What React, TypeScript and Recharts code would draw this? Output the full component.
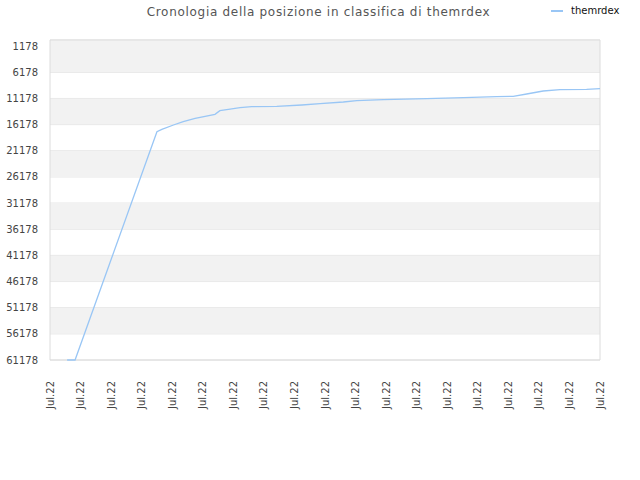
import { LineChart, Line, XAxis, YAxis, CartesianGrid, ReferenceArea } from "recharts";

const TITLE = "Cronologia della posizione in classifica di themrdex";
const SERIES_NAME = "themrdex";

// x position in label units (0 = first "Jul.22" tick), rank value
const xs = [
  0.56, 0.82, 3.5, 3.66, 4.04, 4.36, 4.75, 5.4, 5.56, 5.84, 6.22, 6.6, 7.42, 8.24,
  8.84, 9.6, 10.04, 10.91, 12.33, 13.53, 14.62, 15.16, 15.6, 16.14, 16.69, 17.56, 18,
];
const ranks = [
  61178, 61178, 17531, 17073, 16250, 15620, 14970, 14205, 13517, 13250, 12943, 12752,
  12675, 12427, 12178, 11853, 11605, 11413, 11222, 11031, 10840, 10763, 10323, 9750,
  9502, 9425, 9310,
];

const yTicks = [1178, 6178, 11178, 16178, 21178, 26178, 31178, 36178, 41178, 46178, 51178, 56178, 61178];
const xLabels = [
  "Jul.22", "Jul.22", "Jul.22", "Jul.22", "Jul.22", "Jul.22", "Jul.22", "Jul.22", "Jul.22", "Jul.22",
  "Jul.22", "Jul.22", "Jul.22", "Jul.22", "Jul.22", "Jul.22", "Jul.22", "Jul.22", "Jul.22",
];

const data = xs.map((x, i) => ({ x, rank: ranks[i] }));
const xTicks = xLabels.map((_, i) => i);

// grey stripes: top edge to 2nd tick, then every other interval
const bands: [number, number][] = [];
for (let i = 0; i + 1 < yTicks.length; i += 2) {
  bands.push([i === 0 ? 0 : yTicks[i], yTicks[i + 1]]);
}

const FONT = "'DejaVu Sans', sans-serif";

const XTick = ({ x, y, payload }: any) => (
  <g transform={`translate(${x},${y})`}>
    <text
      transform="rotate(-90)"
      x={-13}
      y={0}
      dy="0.35em"
      textAnchor="end"
      fontSize={10}
      fontFamily={FONT}
      fill="#444"
    >
      {xLabels[payload.value]}
    </text>
  </g>
);

export default function App() {
  return (
    <div style={{ position: "relative", width: 640, height: 480, fontFamily: FONT }}>
      <style>{`body{margin:0}`}</style>
      <div
        style={{
          position: "absolute",
          top: 5,
          left: 0,
          width: 637,
          textAlign: "center",
          fontSize: 12,
          letterSpacing: 0.7,
          color: "#555",
        }}
      >
        {TITLE}
      </div>
      <div style={{ position: "absolute", top: 5, left: 551, display: "flex", alignItems: "center", fontSize: 10, color: "#111" }}>
        <span style={{ display: "inline-block", width: 12, height: 2, background: "#99c6f5", marginRight: 8 }} />
        {SERIES_NAME}
      </div>
      <LineChart width={640} height={480} data={data} margin={{ top: 40, right: 40, bottom: 70, left: 0 }}>
        {bands.map(([a, b], i) => (
          <ReferenceArea key={i} y1={a} y2={b} fill="#f2f2f2" fillOpacity={1} stroke="none" ifOverflow="hidden" />
        ))}
        <CartesianGrid vertical={false} stroke="#e2e2e2" />
        <ReferenceArea x1={0} x2={18} y1={0} y2={61178} fill="none" stroke="#dcdcdc" strokeWidth={1} />
        <XAxis
          type="number"
          dataKey="x"
          domain={[0, 18]}
          ticks={xTicks}
          interval={0}
          tick={<XTick />}
          tickLine={false}
          axisLine={false}
          height={50}
        />
        <YAxis
          reversed
          domain={[0, 61178]}
          ticks={yTicks}
          interval={0}
          width={50}
          tickLine={false}
          axisLine={false}
          tick={{ fontSize: 10, fill: "#444", fontFamily: FONT }}
          tickMargin={6}
        />
        <Line
          type="linear"
          dataKey="rank"
          stroke="#99c6f5"
          strokeWidth={1.3}
          dot={false}
          isAnimationActive={false}
        />
      </LineChart>
    </div>
  );
}
